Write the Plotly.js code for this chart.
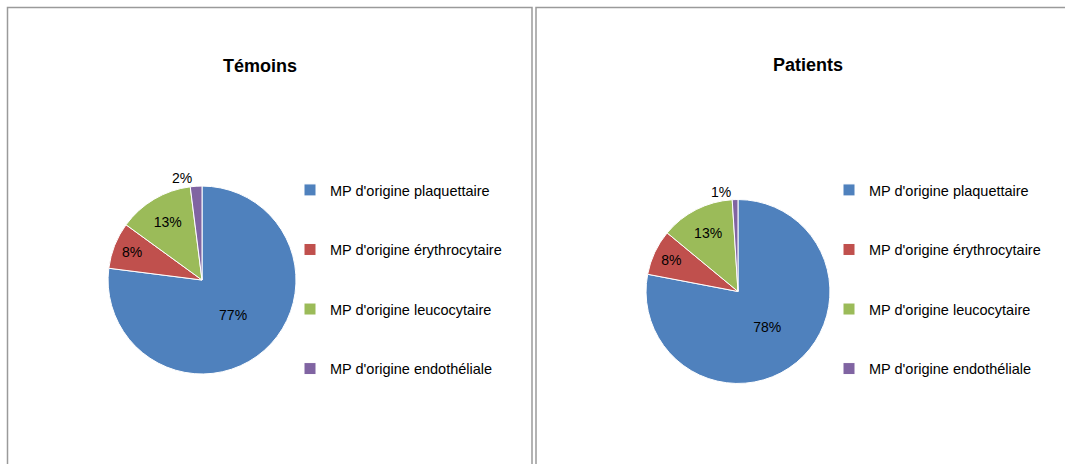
<!DOCTYPE html>
<html>
<head>
<meta charset="utf-8">
<script src="https://cdn.plot.ly/plotly-3.0.1.min.js"></script>
<style>html,body{margin:0;padding:0;background:#fff;}#chart{width:1065px;height:464px;}</style>
</head>
<body>
<div id="chart"></div>
<script>
const categories = ["MP d'origine plaquettaire", "MP d'origine érythrocytaire", "MP d'origine leucocytaire", "MP d'origine endothéliale"];
const temoinsValues = [77, 8, 13, 2];
const patientsValues = [78, 8, 13, 1];
const panelTitles = ["Témoins", "Patients"];
const colors = ["#4F81BD", "#C0504D", "#9BBB59", "#8064A2"];

const FONT = "Liberation Sans, Arial, sans-serif";
// extra blank lines give the wide legend spacing; a trailing marker keeps the
// two pies' legend entries distinct so each legend lists all four categories
function legendLabels(suffix) {
  return categories.map(c => c + "<br> <br> " + suffix);
}

function pieTrace(values, domain, legendId, suffix) {
  return {
    type: "pie",
    labels: legendLabels(suffix),
    values: values,
    sort: false,
    direction: "clockwise",
    rotation: 0,
    domain: domain,
    legend: legendId,
    textinfo: "percent",
    texttemplate: "%{percent:.0%}",
    textposition: values.map(v => v < 5 ? "outside" : "inside"),
    insidetextorientation: "horizontal",
    textfont: {family: FONT, size: 14, color: "#000"},
    insidetextfont: {family: FONT, size: 14, color: "#000"},
    outsidetextfont: {family: FONT, size: 14, color: "#000"},
    marker: {colors: colors, line: {color: "#ffffff", width: 1}},
    hoverinfo: "value+percent"
  };
}

const data = [
  pieTrace(temoinsValues, {x: [0.1014, 0.2780], y: [0.194, 0.599]}, "legend", ""),
  pieTrace(patientsValues, {x: [0.6066, 0.7793], y: [0.1735, 0.570]}, "legend2", "\u200b")
];

const legendCommon = {
  font: {family: FONT, size: 14.5, color: "#000"},
  bgcolor: "rgba(0,0,0,0)",
  valign: "top",
  xanchor: "left",
  yanchor: "top",
  traceorder: "normal"
};

const layout = {
  width: 1065,
  height: 464,
  margin: {l: 0, r: 0, t: 0, b: 0},
  paper_bgcolor: "#ffffff",
  showlegend: true,
  legend: Object.assign({}, legendCommon, {x: 290/1065, y: 1 - 174/464}),
  legend2: Object.assign({}, legendCommon, {x: 829/1065, y: 1 - 174/464}),
  shapes: [
    {type: "rect", xref: "paper", yref: "paper", x0: 7.5/1065, x1: 532/1065, y0: -0.05, y1: 1 - 7.5/464, line: {color: "#9a9a9a", width: 1.5}},
    {type: "rect", xref: "paper", yref: "paper", x0: 536/1065, x1: 1.05, y0: -0.05, y1: 1 - 7.5/464, line: {color: "#9a9a9a", width: 1.5}}
  ],
  annotations: [
    {text: "<b>" + panelTitles[0] + "</b>", xref: "paper", yref: "paper", x: 260/1065, y: 1 - 66/464, showarrow: false, font: {family: FONT, size: 18, color: "#000"}, xanchor: "center", yanchor: "middle"},
    {text: "<b>" + panelTitles[1] + "</b>", xref: "paper", yref: "paper", x: 808/1065, y: 1 - 65/464, showarrow: false, font: {family: FONT, size: 18, color: "#000"}, xanchor: "center", yanchor: "middle"}
  ]
};

Plotly.newPlot("chart", data, layout, {displayModeBar: false, staticPlot: true});
</script>
</body>
</html>
